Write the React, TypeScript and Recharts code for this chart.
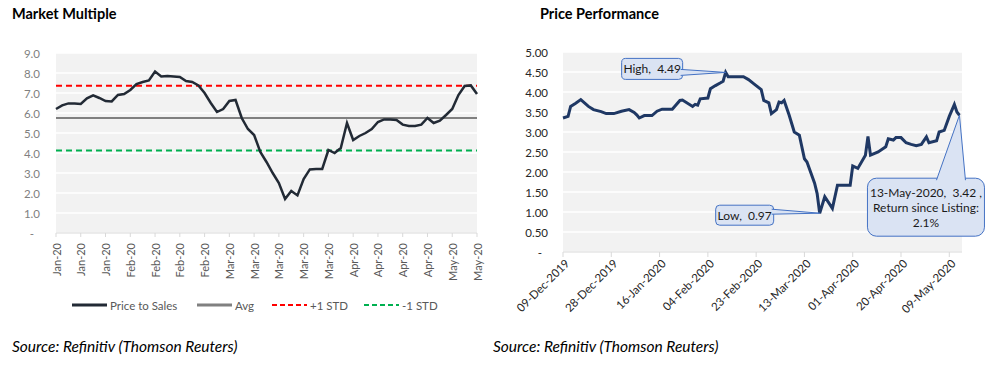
import { LineChart, Line, XAxis, YAxis, CartesianGrid, ReferenceLine, ReferenceDot } from 'recharts';

// Market Multiple (price to sales), Jan-20 .. May-20
const multipleLabels = ['Jan-20', 'Jan-20', 'Jan-20', 'Feb-20', 'Feb-20', 'Feb-20', 'Feb-20', 'Mar-20', 'Mar-20', 'Mar-20', 'Mar-20', 'Mar-20', 'Apr-20', 'Apr-20', 'Apr-20', 'Apr-20', 'May-20', 'May-20'];
const priceToSales = [
  6.2, 6.38, 6.48, 6.47, 6.45, 6.73, 6.88, 6.75, 6.6, 6.58,
  6.9, 6.95, 7.15, 7.45, 7.55, 7.63, 8.07, 7.83, 7.85, 7.83,
  7.8, 7.6, 7.55, 7.38, 7.0, 6.5, 6.05, 6.2, 6.6, 6.65,
  5.75, 5.2, 4.9, 4.05, 3.55, 3.0, 2.5, 1.7, 2.1, 1.88,
  2.7, 3.18, 3.2, 3.2, 4.15, 4.0, 4.25, 5.5, 4.65, 4.85,
  5.0, 5.2, 5.55, 5.68, 5.68, 5.65, 5.42, 5.35, 5.35, 5.42,
  5.75, 5.5, 5.62, 5.9, 6.2, 6.9, 7.35, 7.38, 6.95,
];
const avgMultiple = 5.75;
const plusOneStd = 7.36;
const minusOneStd = 4.12;
const multipleTicks = [0, 1, 2, 3, 4, 5, 6, 7, 8, 9];
const labelEvery = 4;

// Price Performance, days since 09-Dec-2019
const priceDays = [
  0, 2, 3, 5, 7, 10, 12, 15, 17, 20,
  23, 26, 28, 29, 30, 32, 35, 37, 39, 43,
  46, 47, 51, 52, 53, 54, 57, 58, 60, 62,
  63, 64, 65, 68, 71, 73, 75, 78, 79, 81,
  82, 84, 85, 86, 87, 89, 91, 93, 95, 96,
  99, 100, 101, 103, 106, 108, 112, 113, 114, 116,
  119, 120, 121, 124, 127, 128, 130, 131, 133, 135,
  137, 139, 141, 143, 144, 147, 148, 150, 152, 154,
  155, 156,
];
const prices = [
  3.35, 3.39, 3.64, 3.72, 3.81, 3.64, 3.56, 3.51, 3.46, 3.46,
  3.52, 3.56, 3.49, 3.43, 3.35, 3.41, 3.41, 3.52, 3.57, 3.57,
  3.79, 3.8, 3.64, 3.69, 3.67, 3.83, 3.85, 4.08, 4.16, 4.23,
  4.27, 4.49, 4.38, 4.38, 4.38, 4.31, 4.21, 4.06, 3.79, 3.73,
  3.46, 3.56, 3.75, 3.73, 3.79, 3.42, 3.0, 2.92, 2.33, 2.25,
  1.72, 1.46, 0.97, 1.38, 1.09, 1.67, 1.67, 1.67, 2.15, 2.09,
  2.42, 2.89, 2.42, 2.5, 2.63, 2.83, 2.8, 2.86, 2.86, 2.73,
  2.69, 2.66, 2.69, 2.88, 2.73, 2.78, 3.0, 3.04, 3.39, 3.69,
  3.5, 3.42,
];
const priceTickDays = [0, 19, 38, 57, 76, 95, 114, 133, 152];
const priceTickLabels = ['09-Dec-2019', '28-Dec-2019', '16-Jan-2020', '04-Feb-2020', '23-Feb-2020', '13-Mar-2020', '01-Apr-2020', '20-Apr-2020', '09-May-2020'];
const priceTicks = [0, 0.5, 1, 1.5, 2, 2.5, 3, 3.5, 4, 4.5, 5];
const lastDateLabel = '13-May-2020';

const FONT = 'Lato, "Open Sans", sans-serif';

const multipleData = priceToSales.map((v, i) => ({ idx: i, value: v }));
const priceData = priceDays.map((d, i) => ({ day: d, price: prices[i] }));

const hiIdx = prices.indexOf(Math.max(...prices));
const loIdx = prices.indexOf(Math.min(...prices));
const lastIdx = prices.length - 1;
const returnPct = ((prices[lastIdx] / prices[0] - 1) * 100).toFixed(1);

function MultipleXTick({ x, y, payload }: any) {
  return (
    <text x={x} y={y} transform={`rotate(-90 ${x} ${y})`} textAnchor="end" dominantBaseline="central"
      fontSize={11} fill="#595959" fontFamily={FONT}>
      {multipleLabels[payload.value / labelEvery]}
    </text>
  );
}

function MultipleYTick({ x, y, payload }: any) {
  const v = payload.value;
  return (
    <text x={v === 0 ? x - 6 : x} y={y} textAnchor="end" dominantBaseline="central" fontSize={11.5} fill="#7f7f7f" fontFamily={FONT}>
      {v === 0 ? '-' : v.toFixed(1)}
    </text>
  );
}

function PriceXTick({ x, y, payload }: any) {
  const label = priceTickLabels[priceTickDays.indexOf(payload.value)];
  return (
    <text x={x + 4} y={y} transform={`rotate(-45 ${x + 4} ${y})`} textAnchor="end" dominantBaseline="central"
      fontSize={11.5} fill="#262626" fontFamily={FONT}>
      {label}
    </text>
  );
}

function PriceYTick({ x, y, payload }: any) {
  const v = payload.value;
  return (
    <text x={v === 0 ? x - 6 : x} y={y} textAnchor="end" dominantBaseline="central" fontSize={11.5} fill="#262626" fontFamily={FONT}>
      {v === 0 ? '-' : v.toFixed(2)}
    </text>
  );
}

// callout box drawn around a point: box offset from the point, pointer base (relative) and text lines
function makeCallout(bx: number, by: number, w: number, h: number, r: number, base: number[][], lines: string[]) {
  return (props: any) => {
    const { cx, cy } = props;
    if (cx == null || cy == null) return <g />;
    const b1 = `${cx + base[0][0]},${cy + base[0][1]}`;
    const b2 = `${cx + base[1][0]},${cy + base[1][1]}`;
    const tip = `${cx},${cy}`;
    const lh = 15;
    const ty = cy + by + h / 2 - ((lines.length - 1) * lh) / 2;
    return (
      <g>
        <rect x={cx + bx} y={cy + by} width={w} height={h} rx={r} fill="#dae3f3" stroke="#4472c4" strokeWidth={1} />
        <polygon points={`${b1} ${tip} ${b2}`} fill="#dae3f3" stroke="none" />
        <polyline points={`${b1} ${tip} ${b2}`} fill="none" stroke="#4472c4" strokeWidth={1} />
        {lines.map((t, i) => (
          <text key={i} x={cx + bx + w / 2} y={ty + i * lh} textAnchor="middle" dominantBaseline="central"
            fontSize={12} fill="#1a1a1a" fontFamily={FONT} style={{ whiteSpace: 'pre' }}>
            {t}
          </text>
        ))}
      </g>
    );
  };
}

const highCallout = makeCallout(-104, -14, 61, 21, 4, [[-45, -3], [-45, 3]], [`High,  ${prices[hiIdx].toFixed(2)}`]);
const lowCallout = makeCallout(-104, -8, 58, 20, 4, [[-48, -4], [-48, 1]], [`Low,  ${prices[loIdx].toFixed(2)}`]);
const lastCallout = makeCallout(-92, 63, 117, 58, 9, [[-23, 65], [6, 65]], [
  `${lastDateLabel},  ${prices[lastIdx].toFixed(2)} ,`,
  'Return since Listing:',
  `${returnPct}%`,
]);

function MultipleLegend() {
  const items = [
    { x: 72, label: 'Price to Sales', color: '#222a35', dash: undefined as string | undefined },
    { x: 197, label: 'Avg', color: '#808080', dash: undefined },
    { x: 272, label: '+1 STD', color: '#ff0000', dash: '5 3' },
    { x: 364, label: '-1 STD', color: '#00b050', dash: '5 3' },
  ];
  return (
    <svg width={490} height={20} style={{ position: 'absolute', left: 0, top: 295 }}>
      {items.map((it) => (
        <g key={it.label}>
          <line x1={it.x} x2={it.x + 35} y1={10} y2={10} stroke={it.color} strokeWidth={it.dash ? 2 : 3} strokeDasharray={it.dash} />
          <text x={it.x + 38} y={10} dominantBaseline="central" fontSize={11.5} fill="#595959" fontFamily={FONT}>{it.label}</text>
        </g>
      ))}
    </svg>
  );
}

const titleStyle: React.CSSProperties = { position: 'absolute', top: 5, fontFamily: FONT, fontWeight: 700, fontSize: 14.5, color: '#000' };
const sourceStyle: React.CSSProperties = { position: 'absolute', top: 337, fontFamily: FONT, fontStyle: 'italic', fontSize: 15.5, color: '#000' };

export default function App() {
  return (
    <div style={{ position: 'absolute', left: 0, top: 0, width: 993, height: 374, background: '#fff', overflow: 'hidden' }}>
      <div style={{ ...titleStyle, left: 12 }}>Market Multiple</div>
      <div style={{ ...titleStyle, left: 540 }}>Price Performance</div>

      <div style={{ position: 'absolute', left: 0, top: 0 }}>
        <LineChart width={490} height={290} data={multipleData} margin={{ top: 53, right: 13, left: 0, bottom: 0 }}>
          <CartesianGrid vertical={false} stroke="#ffffff" strokeWidth={1.5} fill="#f2f2f2" />
          <XAxis dataKey="idx" type="number" domain={[0, priceToSales.length - 1]}
            ticks={multipleData.filter((d) => d.idx % labelEvery === 0).map((d) => d.idx)}
            height={57} tickSize={4} tickMargin={6} interval={0} stroke="#d9d9d9" tick={<MultipleXTick />} />
          <YAxis domain={[0, 9]} ticks={multipleTicks} width={56} tickLine={false} axisLine={false} tickSize={0} tickMargin={16}
            tick={<MultipleYTick />} interval={0} />
          <ReferenceLine y={avgMultiple} stroke="#808080" strokeWidth={2} />
          <ReferenceLine y={plusOneStd} stroke="#ff0000" strokeWidth={2} strokeDasharray="6 4" />
          <ReferenceLine y={minusOneStd} stroke="#00b050" strokeWidth={2} strokeDasharray="6 4" />
          <Line type="linear" dataKey="value" stroke="#222a35" strokeWidth={2.5} dot={false} isAnimationActive={false} />
        </LineChart>
      </div>
      <MultipleLegend />

      <div style={{ position: 'absolute', left: 495, top: 0 }}>
        <LineChart width={498} height={330} data={priceData} margin={{ top: 52, right: 31, left: 0, bottom: 0 }}>
          <CartesianGrid vertical={false} stroke="#ffffff" strokeWidth={1.5} fill="#f2f2f2" />
          <XAxis dataKey="day" type="number" domain={[0, 157]} ticks={priceTickDays} interval={0}
            height={78} tickSize={5} tickMargin={4} stroke="#d9d9d9" tick={<PriceXTick />} />
          <YAxis domain={[0, 5]} ticks={priceTicks} width={68} tickLine={false} axisLine={false} tickSize={0} tickMargin={15}
            tick={<PriceYTick />} interval={0} />
          <Line type="linear" dataKey="price" stroke="#1f3864" strokeWidth={3} dot={false} isAnimationActive={false} />
          <ReferenceDot x={priceDays[hiIdx]} y={prices[hiIdx]} ifOverflow="visible" shape={highCallout} />
          <ReferenceDot x={priceDays[loIdx]} y={prices[loIdx]} ifOverflow="visible" shape={lowCallout} />
          <ReferenceDot x={priceDays[lastIdx]} y={prices[lastIdx]} ifOverflow="visible" shape={lastCallout} />
        </LineChart>
      </div>

      <div style={{ ...sourceStyle, left: 12 }}>Source: Refinitiv (Thomson Reuters)</div>
      <div style={{ ...sourceStyle, left: 493 }}>Source: Refinitiv (Thomson Reuters)</div>
    </div>
  );
}
